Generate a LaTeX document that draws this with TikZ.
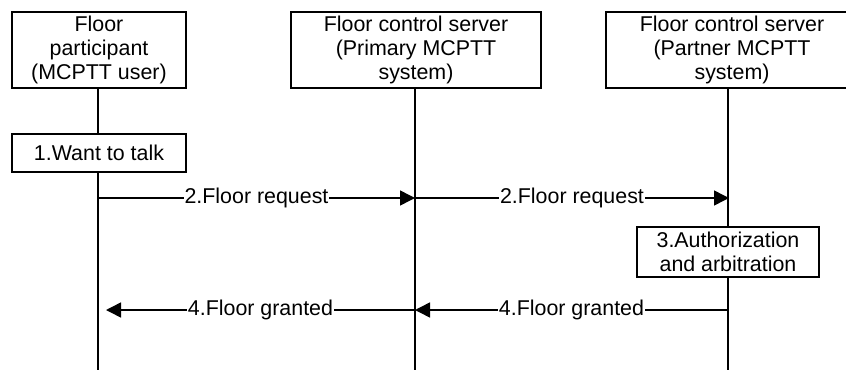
\documentclass[tikz,border=0pt]{standalone}
\usepackage{fontspec}
\setmainfont{Liberation Sans}
\usepackage{tikz}
\usetikzlibrary{arrows.meta,positioning,calc}

\begin{document}
\begin{tikzpicture}[
  x=0.5pt, y=-0.5pt,
  entity/.style={draw, line width=0.9pt, inner sep=0pt, align=center, font=\fontsize{10.7}{12}\selectfont},
  action/.style={draw, line width=0.9pt, fill=white, inner sep=0pt, align=center, font=\fontsize{10.7}{12}\selectfont},
  lifeline/.style={line width=0.75pt},
  arr/.style={-{Triangle[length=7.5pt, width=7.5pt]}, line width=0.75pt},
  msg/.style={fill=white, inner sep=0.5pt, font=\fontsize{10.7}{12}\selectfont}
]
  \useasboundingbox (0,0) rectangle (846,370);

  % participants
  \node[entity, minimum width=87pt, minimum height=38pt] (user) at (99,50) {Floor\\participant\\(MCPTT user)};
  \node[entity, minimum width=125pt, minimum height=38pt] (primary) at (416,50) {Floor control server\\(Primary MCPTT\\system)};
  \node[entity, minimum width=126pt, minimum height=38pt] (partner) at (732,50) {Floor control server\\(Partner MCPTT\\system)};

  % lifelines
  \coordinate (userend) at (98,370);
  \coordinate (primaryend) at (415,370);
  \coordinate (partnerend) at (728,370);
  \draw[lifeline] (user.south -| userend) -- (userend);
  \draw[lifeline] (primary.south -| primaryend) -- (primaryend);
  \draw[lifeline] (partner.south -| partnerend) -- (partnerend);

  % local actions
  \node[action, minimum width=87pt, minimum height=19pt] (talk) at (99,153) {1.Want to talk};
  \node[action, minimum width=91pt, minimum height=25pt] (auth) at (728,252) {3.Authorization\\and arbitration};

  % messages
  \coordinate (req1) at (98,198);
  \coordinate (req2) at (415,198);
  \coordinate (req3) at (729,198);
  \coordinate (gnt1) at (106,310);
  \coordinate (gnt2) at (415,310);
  \coordinate (gnt3) at (728,310);

  \draw[arr] (req1) -- node[msg] {2.Floor request} (req2);
  \draw[arr] (req2) -- node[msg] {2.Floor request} (req3);
  \draw[arr] (gnt3) -- node[msg] {4.Floor granted} (gnt2);
  \draw[arr] (gnt2) -- node[msg] {4.Floor granted} (gnt1);
\end{tikzpicture}
\end{document}
